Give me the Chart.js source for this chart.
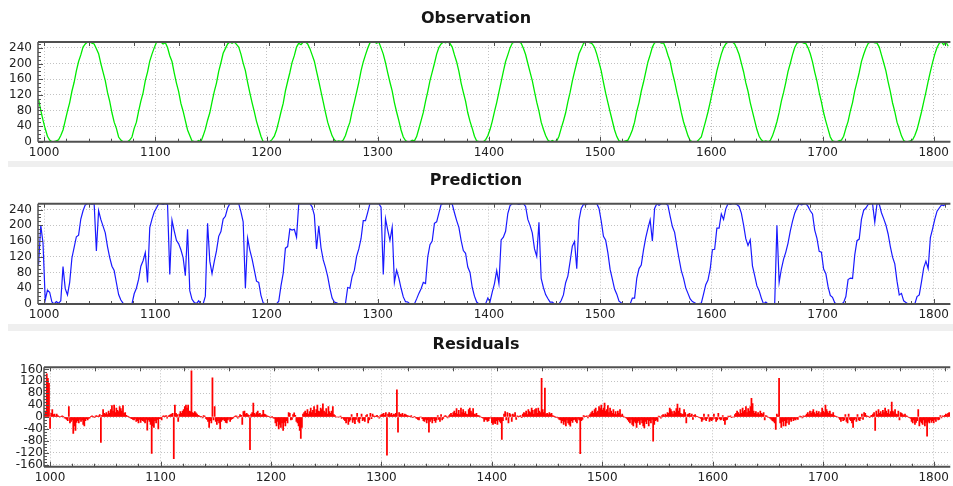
<!DOCTYPE html>
<html><head><meta charset="utf-8">
<script src="https://cdn.jsdelivr.net/npm/chart.js@4.4.1/dist/chart.umd.min.js"></script>
<style>
html,body{margin:0;padding:0;background:#fff;width:953px;height:486px;overflow:hidden;}
.panel{position:absolute;left:0;width:953px;}
.band{position:absolute;left:8px;width:945px;background:#efefef;}
canvas{display:block;}
</style></head><body>
<div class="panel" style="top:0;height:161px"><canvas id="c1" width="953" height="161"></canvas></div>
<div class="band" style="top:161px;height:6px"></div>
<div class="panel" style="top:167px;height:157px"><canvas id="c2" width="953" height="157"></canvas></div>
<div class="band" style="top:324px;height:7px"></div>
<div class="panel" style="top:331px;height:155px"><canvas id="c3" width="953" height="155"></canvas></div>
<script>
const titles = ['Observation', 'Prediction', 'Residuals'];
const xTicks = [1000, 1100, 1200, 1300, 1400, 1500, 1600, 1700, 1800];
const levelTicks = [0, 40, 80, 120, 160, 200, 240];
const residualTicks = [-160, -120, -80, -40, 0, 40, 80, 120, 160];

// sampled every 2 steps starting at step 995
const lineStart = 995;
const lineStep = 2;
const observation = [
108,80,55,33,14,4,0,
0,2,5,16,30,54,78,100,129,152,181,205,222,242,250,255,255,252,250,238,225,200,178,156,126,103,74,50,34,12,4,0,
0,0,4,12,34,50,78,104,125,156,178,206,224,240,254,255,255,250,253,241,220,205,176,150,128,98,78,54,30,16,2,0,
0,3,0,15,32,55,74,102,128,150,180,202,226,238,250,255,252,255,249,242,224,201,182,152,125,100,77,52,33,14,0,0,
0,0,6,14,30,52,76,98,130,154,177,203,220,242,252,248,255,255,250,238,222,206,180,155,128,102,75,50,32,15,5,0,
2,0,4,16,34,50,78,101,126,152,181,204,222,239,253,255,255,252,255,240,224,202,176,152,130,100,76,54,30,12,3,0,
0,4,2,13,33,54,75,103,128,156,178,200,224,241,250,255,253,255,251,242,222,204,180,150,126,104,74,52,34,14,2,0,
0,0,5,15,31,52,77,100,127,153,180,205,222,240,252,255,255,255,252,239,223,200,178,156,128,101,78,50,32,16,4,0,
3,0,2,14,34,53,74,102,126,155,179,202,225,238,251,255,255,253,250,241,224,203,181,152,124,100,76,53,30,13,2,0,
0,2,4,16,30,50,78,100,129,152,178,204,222,242,253,255,255,252,253,240,221,205,177,154,127,103,75,51,33,15,3,0,
0,0,6,12,33,54,76,101,128,154,181,203,224,240,250,255,255,255,250,238,223,201,179,151,129,100,77,54,31,14,5,0,
2,0,3,15,32,51,75,104,126,152,180,200,222,241,252,254,255,252,251,240,225,204,178,155,126,102,74,52,32,12,2,0,
0,3,4,14,34,52,78,100,130,153,177,205,223,239,251,255,255,253,252,242,222,202,181,153,128,99,77,50,33,15,3,0,
0,2,5,16,31,53,76,102,127,154,179,203,224,241,252,255,248,255,244
];
const prediction = [
100,200,155,10,35,30,5,
0,6,2,8,95,39,23,55,117,144,171,175,216,237,252,255,255,254,255,135,237,215,198,181,146,118,96,85,54,24,10,2,
0,0,0,0,26,40,63,96,110,131,55,194,216,234,244,255,255,253,255,253,75,213,186,162,153,138,118,72,190,34,12,4,
1,8,0,0,20,205,109,77,108,135,172,184,216,223,244,255,255,255,255,255,234,209,40,167,137,115,87,58,55,22,3,0,
1,0,0,0,0,7,46,78,142,146,191,188,190,170,255,255,255,255,255,255,247,226,140,199,143,112,93,70,40,15,5,3,
0,0,0,1,42,40,70,86,121,140,166,212,212,233,255,255,255,255,255,246,75,217,188,162,195,55,86,66,40,18,6,5,
0,1,0,13,27,39,55,52,120,151,160,205,209,231,253,255,255,255,255,254,232,212,195,162,136,129,94,80,42,20,5,0,
0,0,0,15,6,30,52,85,52,163,170,185,230,250,255,255,255,253,255,255,248,215,200,181,140,121,208,65,42,24,14,5,
5,0,0,0,9,23,54,71,108,147,159,90,213,243,253,252,255,255,255,255,255,243,211,172,162,130,88,63,38,25,7,3,
0,0,0,0,15,15,66,90,99,137,168,192,214,160,243,255,251,255,255,255,251,223,197,182,147,115,85,66,41,27,13,6,
3,0,1,2,25,49,61,89,138,139,193,193,229,215,242,255,253,255,255,253,248,231,201,166,149,163,97,72,46,34,15,0,
5,0,0,0,0,200,55,89,114,132,155,185,210,231,244,255,252,254,255,248,237,229,188,167,134,132,89,77,44,22,17,3,
0,0,0,4,19,62,66,65,125,161,165,215,238,244,253,255,255,208,255,254,232,217,201,178,146,119,102,58,23,27,8,4,
0,0,0,0,19,23,56,92,109,90,169,191,216,236,244,252,250,255,255
];

// one value per step starting at step 995
const residualStart = 995;
const residuals = [
10,20,145,130,113,-38,12,25,8,10,
3,10,5,2,0,2,4,1,-3,-5,
-8,-12,35,-20,-15,-10,-55,-30,-45,-18,
-12,-20,-8,-15,-10,-25,-30,-12,-6,-10,
-5,-3,2,4,1,-2,3,5,2,4,
8,-85,6,25,12,10,15,8,20,12,
25,38,20,40,15,30,22,18,35,28,
20,38,12,15,6,3,2,-2,-4,-6,
-8,-10,-5,-15,-12,-20,-8,-18,-10,-12,
-15,-20,-8,-44,-10,-15,-25,-122,-30,-35,
-12,-20,-8,-40,-6,-5,-10,3,4,2,
5,-4,3,6,8,10,12,-140,40,12,
8,-15,10,18,12,20,25,35,40,30,
40,20,18,155,15,12,18,14,10,6,
4,2,1,-3,5,3,-5,-8,-15,-35,
-12,-20,132,-10,35,-15,-25,-12,-20,-40,
-15,-10,-8,-12,-18,-20,-10,-5,-15,-8,
-6,-3,2,4,3,-4,2,8,6,-25,
18,20,10,12,8,6,-110,10,15,47,
12,8,15,20,10,12,6,8,22,10,
8,5,3,2,0,-2,1,-3,-5,-20,
-30,-15,-40,-25,-35,-20,-45,-18,-30,-12,
-20,15,12,-10,-8,8,14,6,-15,-20,
-30,-45,-72,-35,10,15,20,12,25,10,
18,30,15,22,35,12,25,40,20,18,
30,25,44,20,15,28,10,35,18,12,
20,35,8,5,0,0,0,0,3,-5,
-2,-8,-12,-20,-5,-25,-15,-10,8,-18,
-10,-22,-8,12,-15,-20,-5,10,-12,-8,
-15,5,8,-20,-10,12,-6,10,4,2,
3,6,2,-4,5,8,10,12,6,15,
-128,10,15,8,12,6,10,8,12,91,
-51,15,10,8,12,5,10,8,6,4,
3,2,5,-2,0,2,-3,-5,-8,-10,
0,0,-6,-12,-15,-8,-20,-10,-51,-15,
-8,-20,-5,-12,-18,-10,5,-8,-15,8,
-10,-5,3,5,2,-3,4,8,12,6,
15,20,12,28,10,22,8,30,15,25,
12,18,10,8,25,30,20,14,28,10,
8,12,6,5,3,0,-2,-4,-15,-8,
-10,-15,-12,-5,0,-20,-25,-18,-22,-12,
-25,-10,-15,-20,-75,-12,10,18,-10,15,
-20,12,8,-15,10,5,15,-8,4,2,
3,5,-2,10,15,12,20,8,25,18,
15,30,22,10,25,28,12,30,20,15,
130,25,15,97,10,12,8,15,10,12,
5,3,2,-2,0,-4,-8,-10,-20,-12,
-25,-15,-30,-10,-20,-25,-31,-12,-18,-10,
-8,-15,-20,-5,-10,-123,-12,-8,5,3,
2,4,-3,5,10,15,20,12,25,30,
15,20,35,28,40,22,30,47,20,25,
38,15,30,20,12,25,10,18,8,20,
12,25,5,10,3,0,-2,-5,-10,-15,
-20,-8,-25,-30,-15,-20,-35,-18,-12,-25,
-10,-20,-30,-37,-15,-22,-10,-30,-12,-20,
-8,-81,-25,-12,-10,-15,3,2,-4,5,
8,4,10,6,15,12,30,25,18,10,
20,15,28,43,20,30,12,8,10,25,
15,-20,8,10,12,5,10,-8,6,8,
3,2,0,-2,-5,-15,-10,10,-8,-12,
-5,8,-15,-10,-12,-8,10,-5,-15,-10,
12,-6,-10,-8,5,-12,-25,-10,-8,3,
2,4,-2,0,0,8,12,20,15,10,
25,12,30,18,22,35,15,28,20,35,
63,45,20,12,18,10,15,8,20,12,
10,15,-10,5,3,0,-2,-5,-8,-12,
-15,-20,-42,10,5,130,-20,-35,-15,-30,
-12,-30,-20,-8,-25,-10,-15,-5,-12,-8,
-10,-5,-8,0,3,2,-3,4,2,5,
10,15,8,20,12,18,25,15,10,20,
12,18,8,15,30,20,15,40,25,18,
12,20,10,8,15,5,3,2,0,-3,
-8,-15,-5,-12,-10,8,-15,-20,10,-8,
-12,-20,-35,-10,-5,-15,8,-10,-12,-5,
10,-8,15,12,5,3,2,-2,4,6,
10,15,-45,20,8,25,12,18,10,22,
15,30,20,12,25,10,18,50,20,15,
25,10,8,20,-10,15,12,8,5,10,
4,3,0,-2,-5,-15,-20,-10,-25,-18,
-12,25,-30,-15,-20,-25,-10,-30,-18,-64,
-15,-20,-10,-18,-12,-20,-8,-15,-5,-10,
-8,5,-3,4,2,6,10,8,12,15
];

const FONT = 'DejaVu Sans';
const framePlugin = {
  id: 'frame',
  afterDatasetsDraw(chart, args, opts) {
    const {ctx, chartArea: a, scales: {x, y}} = chart;
    ctx.save();
    ctx.strokeStyle = '#505050';
    const seg = (x1, y1, x2, y2, w) => { ctx.lineWidth = w; ctx.beginPath(); ctx.moveTo(x1, y1); ctx.lineTo(x2, y2); ctx.stroke(); };
    seg(a.left, a.top, a.right, a.top, 2);
    seg(a.left, a.bottom, a.right, a.bottom, 2);
    seg(a.left, a.top, a.left, a.bottom, 1.5);
    for (let v = 1000; v <= 1800; v += 20) {
      const px = Math.round(x.getPixelForValue(v)) + 0.5;
      const major = v % 100 === 0;
      seg(px, a.bottom, px, a.bottom - (major ? 5 : 3), 1);
    }
    for (let v = 1000; v <= x.max; v += 40.5) {
      const px = Math.round(x.getPixelForValue(v)) + 0.5;
      seg(px, a.top, px, a.top + 4, 1);
    }
    for (let v = opts.yFrom; v <= y.max; v += opts.yMinor) {
      const py = Math.round(y.getPixelForValue(v)) + 0.5;
      const major = v % opts.yMajor === 0;
      seg(a.left, py, a.left + (major ? 5 : 3), py, 1);
    }
    ctx.restore();
  }
};

function makeOptions(idx, yMin, yMax, yTicks, leftWidth, yPad, tPadTop, tPadBottom, xHeight, yFrom, yMinor, yMajor) {
  return {
    responsive: false, animation: false, devicePixelRatio: 1,
    layout: {padding: {left: 0, right: 1, top: 0, bottom: 0}},
    plugins: {
      legend: {display: false}, tooltip: {enabled: false},
      title: {display: true, text: titles[idx], color: '#151515',
        font: {family: FONT, size: 16, weight: 'bold'}, padding: {top: tPadTop, bottom: tPadBottom}},
      frame: {yFrom: yFrom, yMinor: yMinor, yMajor: yMajor}
    },
    scales: {
      x: {type: 'linear', min: 994.5, max: 1815, offset: false,
        afterBuildTicks: s => { s.ticks = xTicks.map(v => ({value: v})); },
        afterFit: s => { s.height = xHeight; },
        ticks: {font: {family: FONT, size: 12}, color: '#222', padding: 4, maxRotation: 0, autoSkip: false, callback: v => String(v)},
        grid: {color: '#c2c2c2', lineWidth: 1, drawTicks: false, offset: false},
        border: {display: false, dash: [1, 2]}},
      y: {type: 'linear', min: yMin, max: yMax,
        afterBuildTicks: s => { s.ticks = yTicks.map(v => ({value: v})); },
        afterFit: s => { s.width = leftWidth; },
        ticks: {font: {family: FONT, size: 12}, color: '#222', padding: yPad, autoSkip: false, callback: v => String(v)},
        grid: {color: '#c2c2c2', lineWidth: 1, drawTicks: false},
        border: {display: false, dash: [1, 2]}}
    }
  };
}

const linePoints = arr => arr.map((v, i) => ({x: lineStart + i * lineStep, y: v}));

new Chart(document.getElementById('c1'), {
  type: 'line',
  data: {datasets: [{data: linePoints(observation), borderColor: 'rgb(0,235,0)', borderWidth: 1.3, pointRadius: 0, tension: 0}]},
  options: makeOptions(0, 0, 255, levelTicks, 38, 6, 9.4, 13.4, 19.3, 0, 10, 40),
  plugins: [framePlugin]
});
new Chart(document.getElementById('c2'), {
  type: 'line',
  data: {datasets: [{data: linePoints(prediction), borderColor: 'rgb(25,25,255)', borderWidth: 1.2, pointRadius: 0, tension: 0}]},
  options: makeOptions(1, 0, 255, levelTicks, 38, 6, 4.6, 12.9, 20, 0, 10, 40),
  plugins: [framePlugin]
});
new Chart(document.getElementById('c3'), {
  type: 'bar',
  data: {datasets: [{data: residuals.map((v, i) => ({x: residualStart + i, y: v})), backgroundColor: 'rgb(255,0,0)', borderWidth: 0, barPercentage: 1, categoryPercentage: 1, grouped: false}]},
  options: makeOptions(2, -167, 167, residualTicks, 44, 1, 4.0, 13.1, 19.3, -160, 10, 40),
  plugins: [framePlugin]
});
</script>
</body></html>
